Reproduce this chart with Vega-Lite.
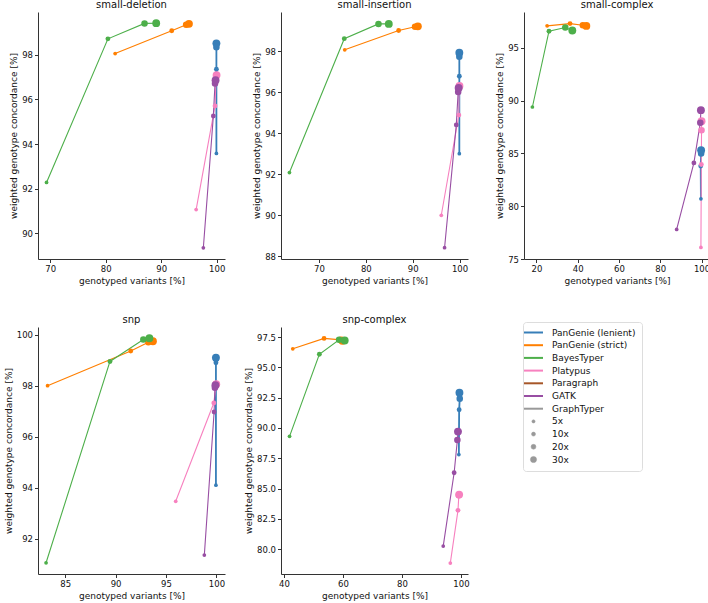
{
  "$schema": "https://vega.github.io/schema/vega-lite/v6.json",
  "padding": {"left": 4, "top": 0, "right": 0, "bottom": 3},
  "columns": 3,
  "spacing": {"row": 68, "column": 56},
  "bounds": "flush",
  "data": {"values": [
    {"type": "small-deletion", "tool": "PanGenie (lenient)", "cov": 5, "genotyped": 99.95, "concordance": 93.58},
    {"type": "small-deletion", "tool": "PanGenie (lenient)", "cov": 10, "genotyped": 99.95, "concordance": 97.34},
    {"type": "small-deletion", "tool": "PanGenie (lenient)", "cov": 20, "genotyped": 99.95, "concordance": 98.32},
    {"type": "small-deletion", "tool": "PanGenie (lenient)", "cov": 30, "genotyped": 99.95, "concordance": 98.5},
    {"type": "small-deletion", "tool": "PanGenie (strict)", "cov": 5, "genotyped": 81.7, "concordance": 98.04},
    {"type": "small-deletion", "tool": "PanGenie (strict)", "cov": 10, "genotyped": 91.9, "concordance": 99.06},
    {"type": "small-deletion", "tool": "PanGenie (strict)", "cov": 20, "genotyped": 94.5, "concordance": 99.33},
    {"type": "small-deletion", "tool": "PanGenie (strict)", "cov": 30, "genotyped": 95.0, "concordance": 99.37},
    {"type": "small-deletion", "tool": "BayesTyper", "cov": 5, "genotyped": 69.34, "concordance": 92.28},
    {"type": "small-deletion", "tool": "BayesTyper", "cov": 10, "genotyped": 80.4, "concordance": 98.7},
    {"type": "small-deletion", "tool": "BayesTyper", "cov": 20, "genotyped": 87.0, "concordance": 99.39},
    {"type": "small-deletion", "tool": "BayesTyper", "cov": 30, "genotyped": 89.1, "concordance": 99.4},
    {"type": "small-deletion", "tool": "Platypus", "cov": 5, "genotyped": 96.3, "concordance": 91.07},
    {"type": "small-deletion", "tool": "Platypus", "cov": 10, "genotyped": 99.7, "concordance": 95.7},
    {"type": "small-deletion", "tool": "Platypus", "cov": 20, "genotyped": 99.9, "concordance": 97.0},
    {"type": "small-deletion", "tool": "Platypus", "cov": 30, "genotyped": 99.98, "concordance": 97.08},
    {"type": "small-deletion", "tool": "GATK", "cov": 5, "genotyped": 97.6, "concordance": 89.36},
    {"type": "small-deletion", "tool": "GATK", "cov": 10, "genotyped": 99.4, "concordance": 95.25},
    {"type": "small-deletion", "tool": "GATK", "cov": 20, "genotyped": 99.7, "concordance": 96.7},
    {"type": "small-deletion", "tool": "GATK", "cov": 30, "genotyped": 99.8, "concordance": 96.85},

    {"type": "small-insertion", "tool": "PanGenie (lenient)", "cov": 5, "genotyped": 99.95, "concordance": 93.0},
    {"type": "small-insertion", "tool": "PanGenie (lenient)", "cov": 10, "genotyped": 99.95, "concordance": 96.77},
    {"type": "small-insertion", "tool": "PanGenie (lenient)", "cov": 20, "genotyped": 99.95, "concordance": 97.72},
    {"type": "small-insertion", "tool": "PanGenie (lenient)", "cov": 30, "genotyped": 99.95, "concordance": 97.92},
    {"type": "small-insertion", "tool": "PanGenie (strict)", "cov": 5, "genotyped": 75.5, "concordance": 98.06},
    {"type": "small-insertion", "tool": "PanGenie (strict)", "cov": 10, "genotyped": 87.0, "concordance": 99.0},
    {"type": "small-insertion", "tool": "PanGenie (strict)", "cov": 20, "genotyped": 90.5, "concordance": 99.18},
    {"type": "small-insertion", "tool": "PanGenie (strict)", "cov": 30, "genotyped": 91.1, "concordance": 99.2},
    {"type": "small-insertion", "tool": "BayesTyper", "cov": 5, "genotyped": 63.7, "concordance": 92.08},
    {"type": "small-insertion", "tool": "BayesTyper", "cov": 10, "genotyped": 75.4, "concordance": 98.6},
    {"type": "small-insertion", "tool": "BayesTyper", "cov": 20, "genotyped": 82.7, "concordance": 99.32},
    {"type": "small-insertion", "tool": "BayesTyper", "cov": 30, "genotyped": 84.9, "concordance": 99.32},
    {"type": "small-insertion", "tool": "Platypus", "cov": 5, "genotyped": 96.1, "concordance": 90.0},
    {"type": "small-insertion", "tool": "Platypus", "cov": 10, "genotyped": 99.85, "concordance": 94.88},
    {"type": "small-insertion", "tool": "Platypus", "cov": 20, "genotyped": 99.9, "concordance": 96.26},
    {"type": "small-insertion", "tool": "Platypus", "cov": 30, "genotyped": 99.98, "concordance": 96.3},
    {"type": "small-insertion", "tool": "GATK", "cov": 5, "genotyped": 96.8, "concordance": 88.42},
    {"type": "small-insertion", "tool": "GATK", "cov": 10, "genotyped": 99.3, "concordance": 94.4},
    {"type": "small-insertion", "tool": "GATK", "cov": 20, "genotyped": 99.7, "concordance": 96.0},
    {"type": "small-insertion", "tool": "GATK", "cov": 30, "genotyped": 99.8, "concordance": 96.2},

    {"type": "small-complex", "tool": "PanGenie (lenient)", "cov": 5, "genotyped": 99.7, "concordance": 80.7},
    {"type": "small-complex", "tool": "PanGenie (lenient)", "cov": 10, "genotyped": 99.6, "concordance": 83.8},
    {"type": "small-complex", "tool": "PanGenie (lenient)", "cov": 20, "genotyped": 99.8, "concordance": 85.0},
    {"type": "small-complex", "tool": "PanGenie (lenient)", "cov": 30, "genotyped": 99.8, "concordance": 85.3},
    {"type": "small-complex", "tool": "PanGenie (strict)", "cov": 5, "genotyped": 25.2, "concordance": 97.09},
    {"type": "small-complex", "tool": "PanGenie (strict)", "cov": 10, "genotyped": 36.3, "concordance": 97.3},
    {"type": "small-complex", "tool": "PanGenie (strict)", "cov": 20, "genotyped": 42.5, "concordance": 97.15},
    {"type": "small-complex", "tool": "PanGenie (strict)", "cov": 30, "genotyped": 44.2, "concordance": 97.08},
    {"type": "small-complex", "tool": "BayesTyper", "cov": 5, "genotyped": 18.07, "concordance": 89.4},
    {"type": "small-complex", "tool": "BayesTyper", "cov": 10, "genotyped": 26.1, "concordance": 96.58},
    {"type": "small-complex", "tool": "BayesTyper", "cov": 20, "genotyped": 34.0, "concordance": 96.93},
    {"type": "small-complex", "tool": "BayesTyper", "cov": 30, "genotyped": 37.4, "concordance": 96.65},
    {"type": "small-complex", "tool": "Platypus", "cov": 5, "genotyped": 99.7, "concordance": 76.1},
    {"type": "small-complex", "tool": "Platypus", "cov": 10, "genotyped": 99.9, "concordance": 83.95},
    {"type": "small-complex", "tool": "Platypus", "cov": 20, "genotyped": 100.0, "concordance": 87.2},
    {"type": "small-complex", "tool": "Platypus", "cov": 30, "genotyped": 100.0, "concordance": 88.05},
    {"type": "small-complex", "tool": "GATK", "cov": 5, "genotyped": 87.95, "concordance": 77.8},
    {"type": "small-complex", "tool": "GATK", "cov": 10, "genotyped": 96.3, "concordance": 84.1},
    {"type": "small-complex", "tool": "GATK", "cov": 20, "genotyped": 99.4, "concordance": 87.9},
    {"type": "small-complex", "tool": "GATK", "cov": 30, "genotyped": 99.7, "concordance": 89.1},

    {"type": "snp", "tool": "PanGenie (lenient)", "cov": 5, "genotyped": 99.95, "concordance": 94.1},
    {"type": "snp", "tool": "PanGenie (lenient)", "cov": 10, "genotyped": 99.95, "concordance": 98.9},
    {"type": "snp", "tool": "PanGenie (lenient)", "cov": 20, "genotyped": 99.95, "concordance": 99.06},
    {"type": "snp", "tool": "PanGenie (lenient)", "cov": 30, "genotyped": 99.95, "concordance": 99.1},
    {"type": "snp", "tool": "PanGenie (strict)", "cov": 5, "genotyped": 83.25, "concordance": 98.0},
    {"type": "snp", "tool": "PanGenie (strict)", "cov": 10, "genotyped": 91.5, "concordance": 99.36},
    {"type": "snp", "tool": "PanGenie (strict)", "cov": 20, "genotyped": 93.25, "concordance": 99.7},
    {"type": "snp", "tool": "PanGenie (strict)", "cov": 30, "genotyped": 93.7, "concordance": 99.74},
    {"type": "snp", "tool": "BayesTyper", "cov": 5, "genotyped": 83.1, "concordance": 91.06},
    {"type": "snp", "tool": "BayesTyper", "cov": 10, "genotyped": 89.44, "concordance": 98.95},
    {"type": "snp", "tool": "BayesTyper", "cov": 20, "genotyped": 92.75, "concordance": 99.81},
    {"type": "snp", "tool": "BayesTyper", "cov": 30, "genotyped": 93.35, "concordance": 99.86},
    {"type": "snp", "tool": "Platypus", "cov": 5, "genotyped": 95.96, "concordance": 93.47},
    {"type": "snp", "tool": "Platypus", "cov": 10, "genotyped": 99.74, "concordance": 97.32},
    {"type": "snp", "tool": "Platypus", "cov": 20, "genotyped": 99.95, "concordance": 98.01},
    {"type": "snp", "tool": "Platypus", "cov": 30, "genotyped": 99.98, "concordance": 98.06},
    {"type": "snp", "tool": "GATK", "cov": 5, "genotyped": 98.8, "concordance": 91.36},
    {"type": "snp", "tool": "GATK", "cov": 10, "genotyped": 99.77, "concordance": 96.97},
    {"type": "snp", "tool": "GATK", "cov": 20, "genotyped": 99.85, "concordance": 97.92},
    {"type": "snp", "tool": "GATK", "cov": 30, "genotyped": 99.9, "concordance": 98.02},

    {"type": "snp-complex", "tool": "PanGenie (lenient)", "cov": 5, "genotyped": 99.3, "concordance": 87.8},
    {"type": "snp-complex", "tool": "PanGenie (lenient)", "cov": 10, "genotyped": 99.4, "concordance": 91.5},
    {"type": "snp-complex", "tool": "PanGenie (lenient)", "cov": 20, "genotyped": 99.6, "concordance": 92.42},
    {"type": "snp-complex", "tool": "PanGenie (lenient)", "cov": 30, "genotyped": 99.5, "concordance": 92.9},
    {"type": "snp-complex", "tool": "PanGenie (strict)", "cov": 5, "genotyped": 43.0, "concordance": 96.53},
    {"type": "snp-complex", "tool": "PanGenie (strict)", "cov": 10, "genotyped": 53.6, "concordance": 97.39},
    {"type": "snp-complex", "tool": "PanGenie (strict)", "cov": 20, "genotyped": 59.3, "concordance": 97.27},
    {"type": "snp-complex", "tool": "PanGenie (strict)", "cov": 30, "genotyped": 59.8, "concordance": 97.2},
    {"type": "snp-complex", "tool": "BayesTyper", "cov": 5, "genotyped": 41.9, "concordance": 89.31},
    {"type": "snp-complex", "tool": "BayesTyper", "cov": 10, "genotyped": 52.0, "concordance": 96.08},
    {"type": "snp-complex", "tool": "BayesTyper", "cov": 20, "genotyped": 58.7, "concordance": 97.28},
    {"type": "snp-complex", "tool": "BayesTyper", "cov": 30, "genotyped": 60.6, "concordance": 97.22},
    {"type": "snp-complex", "tool": "Platypus", "cov": 5, "genotyped": 96.4, "concordance": 78.85},
    {"type": "snp-complex", "tool": "Platypus", "cov": 10, "genotyped": 99.0, "concordance": 83.2},
    {"type": "snp-complex", "tool": "Platypus", "cov": 20, "genotyped": 99.3, "concordance": 84.45},
    {"type": "snp-complex", "tool": "Platypus", "cov": 30, "genotyped": 99.4, "concordance": 84.5},
    {"type": "snp-complex", "tool": "GATK", "cov": 5, "genotyped": 94.0, "concordance": 80.25},
    {"type": "snp-complex", "tool": "GATK", "cov": 10, "genotyped": 97.7, "concordance": 86.3},
    {"type": "snp-complex", "tool": "GATK", "cov": 20, "genotyped": 98.8, "concordance": 89.0},
    {"type": "snp-complex", "tool": "GATK", "cov": 30, "genotyped": 99.0, "concordance": 89.7}
  ]},
  "concat": [
    {
      "title": "small-deletion",
      "width": 187, "height": 247,
      "transform": [{"filter": "datum.type === 'small-deletion'"}],
      "encoding": {
        "x": {"field": "genotyped", "type": "quantitative", "scale": {"domain": [67.8, 101.5], "nice": false, "zero": false}, "axis": {"values": [70, 80, 90, 100], "title": "genotyped variants [%]"}},
        "y": {"field": "concordance", "type": "quantitative", "scale": {"domain": [88.86, 99.9], "nice": false, "zero": false}, "axis": {"values": [90, 92, 94, 96, 98], "title": "weighted genotype concordance [%]"}},
        "color": {"field": "tool", "type": "nominal",
          "scale": {"domain": ["PanGenie (lenient)", "PanGenie (strict)", "BayesTyper", "Platypus", "Paragraph", "GATK", "GraphTyper", "5x", "10x", "20x", "30x"],
                    "range": ["#377eb8", "#ff7f00", "#4daf4a", "#f781bf", "#a65628", "#984ea3", "#999999", "#999999", "#999999", "#999999", "#999999"]},
          "legend": {"encode": {"symbols": {"update": {
            "shape": {"signal": "indexof(['5x','10x','20x','30x'], datum.value) >= 0 ? 'circle' : 'stroke'"},
            "size": {"signal": "datum.value === '5x' ? 10 : datum.value === '10x' ? 16 : datum.value === '20x' ? 24 : datum.value === '30x' ? 38 : 361"},
            "strokeWidth": {"signal": "indexof(['5x','10x','20x','30x'], datum.value) >= 0 ? 0.5 : 2"}
          }}}}}
      },
      "layer": [
        {"mark": {"type": "line"}, "encoding": {"order": {"field": "cov", "type": "quantitative"}, "strokeWidth": {"condition": {"test": "datum.tool === 'PanGenie (lenient)'", "value": 1.8}, "value": 1.1}}},
        {"mark": {"type": "circle", "opacity": 1}, "encoding": {"size": {"field": "cov", "type": "quantitative", "scale": {"type": "linear", "domain": [5, 30], "range": [14, 62]}, "legend": null}}}
      ]
    },
    {
      "title": "small-insertion",
      "width": 187, "height": 247,
      "transform": [{"filter": "datum.type === 'small-insertion'"}],
      "encoding": {
        "x": {"field": "genotyped", "type": "quantitative", "scale": {"domain": [61.9, 101.8], "nice": false, "zero": false}, "axis": {"values": [70, 80, 90, 100], "title": "genotyped variants [%]"}},
        "y": {"field": "concordance", "type": "quantitative", "scale": {"domain": [87.87, 99.9], "nice": false, "zero": false}, "axis": {"values": [88, 90, 92, 94, 96, 98], "title": "weighted genotype concordance [%]"}},
        "color": {"field": "tool", "type": "nominal",
          "scale": {"domain": ["PanGenie (lenient)", "PanGenie (strict)", "BayesTyper", "Platypus", "Paragraph", "GATK", "GraphTyper", "5x", "10x", "20x", "30x"],
                    "range": ["#377eb8", "#ff7f00", "#4daf4a", "#f781bf", "#a65628", "#984ea3", "#999999", "#999999", "#999999", "#999999", "#999999"]},
          "legend": {"encode": {"symbols": {"update": {
            "shape": {"signal": "indexof(['5x','10x','20x','30x'], datum.value) >= 0 ? 'circle' : 'stroke'"},
            "size": {"signal": "datum.value === '5x' ? 10 : datum.value === '10x' ? 16 : datum.value === '20x' ? 24 : datum.value === '30x' ? 38 : 361"},
            "strokeWidth": {"signal": "indexof(['5x','10x','20x','30x'], datum.value) >= 0 ? 0.5 : 2"}
          }}}}}
      },
      "layer": [
        {"mark": {"type": "line"}, "encoding": {"order": {"field": "cov", "type": "quantitative"}, "strokeWidth": {"condition": {"test": "datum.tool === 'PanGenie (lenient)'", "value": 1.8}, "value": 1.1}}},
        {"mark": {"type": "circle", "opacity": 1}, "encoding": {"size": {"field": "cov", "type": "quantitative", "scale": {"type": "linear", "domain": [5, 30], "range": [14, 62]}, "legend": null}}}
      ]
    },
    {
      "title": "small-complex",
      "width": 186, "height": 247,
      "transform": [{"filter": "datum.type === 'small-complex'"}],
      "encoding": {
        "x": {"field": "genotyped", "type": "quantitative", "scale": {"domain": [14.0, 104.1], "nice": false, "zero": false}, "axis": {"values": [20, 40, 60, 80, 100], "title": "genotyped variants [%]"}},
        "y": {"field": "concordance", "type": "quantitative", "scale": {"domain": [75.0, 98.4], "nice": false, "zero": false}, "axis": {"values": [75, 80, 85, 90, 95], "title": "weighted genotype concordance [%]"}},
        "color": {"field": "tool", "type": "nominal",
          "scale": {"domain": ["PanGenie (lenient)", "PanGenie (strict)", "BayesTyper", "Platypus", "Paragraph", "GATK", "GraphTyper", "5x", "10x", "20x", "30x"],
                    "range": ["#377eb8", "#ff7f00", "#4daf4a", "#f781bf", "#a65628", "#984ea3", "#999999", "#999999", "#999999", "#999999", "#999999"]},
          "legend": {"encode": {"symbols": {"update": {
            "shape": {"signal": "indexof(['5x','10x','20x','30x'], datum.value) >= 0 ? 'circle' : 'stroke'"},
            "size": {"signal": "datum.value === '5x' ? 10 : datum.value === '10x' ? 16 : datum.value === '20x' ? 24 : datum.value === '30x' ? 38 : 361"},
            "strokeWidth": {"signal": "indexof(['5x','10x','20x','30x'], datum.value) >= 0 ? 0.5 : 2"}
          }}}}}
      },
      "layer": [
        {"mark": {"type": "line"}, "encoding": {"order": {"field": "cov", "type": "quantitative"}, "strokeWidth": {"condition": {"test": "datum.tool === 'PanGenie (lenient)'", "value": 1.8}, "value": 1.1}}},
        {"mark": {"type": "circle", "opacity": 1}, "encoding": {"size": {"field": "cov", "type": "quantitative", "scale": {"type": "linear", "domain": [5, 30], "range": [14, 62]}, "legend": null}}}
      ]
    },
    {
      "title": "snp",
      "width": 187, "height": 247,
      "transform": [{"filter": "datum.type === 'snp'"}],
      "encoding": {
        "x": {"field": "genotyped", "type": "quantitative", "scale": {"domain": [82.3, 100.85], "nice": false, "zero": false}, "axis": {"values": [85, 90, 95, 100], "title": "genotyped variants [%]"}},
        "y": {"field": "concordance", "type": "quantitative", "scale": {"domain": [90.62, 100.3], "nice": false, "zero": false}, "axis": {"values": [92, 94, 96, 98, 100], "title": "weighted genotype concordance [%]"}},
        "color": {"field": "tool", "type": "nominal",
          "scale": {"domain": ["PanGenie (lenient)", "PanGenie (strict)", "BayesTyper", "Platypus", "Paragraph", "GATK", "GraphTyper", "5x", "10x", "20x", "30x"],
                    "range": ["#377eb8", "#ff7f00", "#4daf4a", "#f781bf", "#a65628", "#984ea3", "#999999", "#999999", "#999999", "#999999", "#999999"]},
          "legend": {"encode": {"symbols": {"update": {
            "shape": {"signal": "indexof(['5x','10x','20x','30x'], datum.value) >= 0 ? 'circle' : 'stroke'"},
            "size": {"signal": "datum.value === '5x' ? 10 : datum.value === '10x' ? 16 : datum.value === '20x' ? 24 : datum.value === '30x' ? 38 : 361"},
            "strokeWidth": {"signal": "indexof(['5x','10x','20x','30x'], datum.value) >= 0 ? 0.5 : 2"}
          }}}}}
      },
      "layer": [
        {"mark": {"type": "line"}, "encoding": {"order": {"field": "cov", "type": "quantitative"}, "strokeWidth": {"condition": {"test": "datum.tool === 'PanGenie (lenient)'", "value": 1.8}, "value": 1.1}}},
        {"mark": {"type": "circle", "opacity": 1}, "encoding": {"size": {"field": "cov", "type": "quantitative", "scale": {"type": "linear", "domain": [5, 30], "range": [14, 62]}, "legend": null}}}
      ]
    },
    {
      "title": "snp-complex",
      "width": 187, "height": 247,
      "transform": [{"filter": "datum.type === 'snp-complex'"}],
      "encoding": {
        "x": {"field": "genotyped", "type": "quantitative", "scale": {"domain": [39.0, 102.4], "nice": false, "zero": false}, "axis": {"values": [40, 60, 80, 100], "title": "genotyped variants [%]"}},
        "y": {"field": "concordance", "type": "quantitative", "scale": {"domain": [77.95, 98.33], "nice": false, "zero": false}, "axis": {"values": [80, 82.5, 85, 87.5, 90, 92.5, 95, 97.5], "format": ".1f", "title": "weighted genotype concordance [%]"}},
        "color": {"field": "tool", "type": "nominal",
          "scale": {"domain": ["PanGenie (lenient)", "PanGenie (strict)", "BayesTyper", "Platypus", "Paragraph", "GATK", "GraphTyper", "5x", "10x", "20x", "30x"],
                    "range": ["#377eb8", "#ff7f00", "#4daf4a", "#f781bf", "#a65628", "#984ea3", "#999999", "#999999", "#999999", "#999999", "#999999"]},
          "legend": {"encode": {"symbols": {"update": {
            "shape": {"signal": "indexof(['5x','10x','20x','30x'], datum.value) >= 0 ? 'circle' : 'stroke'"},
            "size": {"signal": "datum.value === '5x' ? 10 : datum.value === '10x' ? 16 : datum.value === '20x' ? 24 : datum.value === '30x' ? 38 : 361"},
            "strokeWidth": {"signal": "indexof(['5x','10x','20x','30x'], datum.value) >= 0 ? 0.5 : 2"}
          }}}}}
      },
      "layer": [
        {"mark": {"type": "line"}, "encoding": {"order": {"field": "cov", "type": "quantitative"}, "strokeWidth": {"condition": {"test": "datum.tool === 'PanGenie (lenient)'", "value": 1.8}, "value": 1.1}}},
        {"mark": {"type": "circle", "opacity": 1}, "encoding": {"size": {"field": "cov", "type": "quantitative", "scale": {"type": "linear", "domain": [5, 30], "range": [14, 62]}, "legend": null}}}
      ]
    }
  ],
  "config": {
    "font": "DejaVu Sans",
    "view": {"stroke": null},
    "axis": {"grid": false, "domainColor": "#333333", "tickColor": "#333333", "labelColor": "#111111", "titleColor": "#111111", "labelFontSize": 8.5, "titleFontSize": 9, "titleFontWeight": "normal", "tickSize": 3.5, "labelPadding": 2, "titlePadding": 3, "labelFlush": false},
    "title": {"fontSize": 10, "fontWeight": "normal", "color": "#111111", "offset": 2},
    "legend": {
      "orient": "none", "legendX": 485, "legendY": 310,
      "title": null, "labelFontSize": 9, "labelColor": "#111111",
      "symbolType": "stroke", "symbolSize": 100, "symbolStrokeWidth": 2,
      "strokeColor": "#dddddd", "fillColor": "#ffffff", "padding": 6, "cornerRadius": 3,
      "rowPadding": 2.7, "labelOffset": 14,
      "symbolOpacity": 1
    }
  }
}
